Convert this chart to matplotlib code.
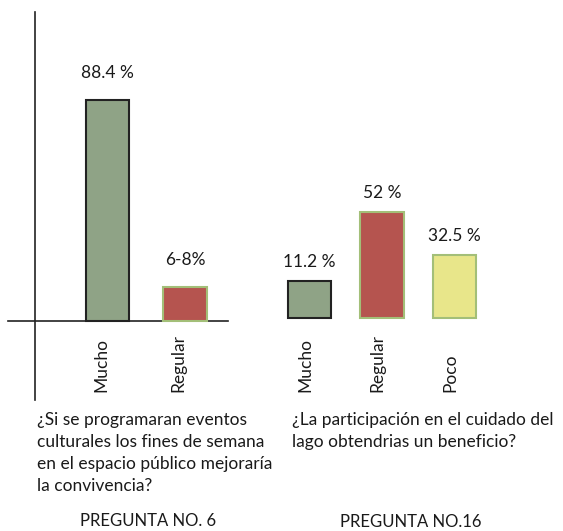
import matplotlib
matplotlib.use("Agg")
import matplotlib.pyplot as plt

plt.rcParams['font.family'] = ['Lato', 'DejaVu Sans']

# ---- data ----
q6_categories = ["Mucho", "Regular"]
q6_heights = [88.4, 13.5]
q6_labels = ["88.4 %", "6-8%"]

q16_categories = ["Mucho", "Regular", "Poco"]
q16_heights = [18.1, 52.0, 30.9]
q16_labels = ["11.2 %", "52 %", "32.5 %"]

q6_question = "¿Si se programaran eventos\nculturales los fines de semana\nen el espacio público mejoraría\nla convivencia?"
q16_question = "¿La participación en el cuidado del\nlago obtendrias un beneficio?"
q6_title = "PREGUNTA NO. 6"
q16_title = "PREGUNTA NO.16"

green = "#8fa386"
red = "#b5544f"
yellow = "#e8e68a"
light_edge = "#a3bf78"
dark_edge = "#222222"

W, H = 563, 531
fig = plt.figure(figsize=(W / 100, H / 100), dpi=100)
fig.patch.set_facecolor("white")

def px_axes(x0, x1, ytop, ybot):
    return fig.add_axes([x0 / W, (H - ybot) / H, (x1 - x0) / W, (ybot - ytop) / H])

FS = 12.5
TC = "#1a1a1a"

# ---- left group ----
ax1 = px_axes(8, 228, 12, 400)
ax1.set_xlim(-1.284, 1.555)
ax1.set_ylim(-31.6, 123.6)
ax1.bar(range(len(q6_categories)), q6_heights, width=0.56,
        color=[green, red], edgecolor=[dark_edge, light_edge], linewidth=1.5, zorder=3)
for s in ["top", "right"]:
    ax1.spines[s].set_visible(False)
ax1.spines["left"].set_position(("data", -0.935))
ax1.spines["bottom"].set_position(("data", 0))
for s in ["left", "bottom"]:
    ax1.spines[s].set_color("#222222")
    ax1.spines[s].set_linewidth(1.2)
ax1.set_xticks([])
ax1.set_yticks([])
ax1.patch.set_alpha(0)
for i, (h, lab) in enumerate(zip(q6_heights, q6_labels)):
    ax1.annotate(lab, xy=(i, h), xytext=(0, 19.4), textcoords="offset points",
                 ha="center", va="center", fontsize=FS, color=TC)
for i, cat in enumerate(q6_categories):
    ax1.annotate(cat, xy=(i, -28.4), xytext=(-4.5, 0), textcoords="offset points",
                 ha="center", va="bottom", rotation=90, fontsize=FS, color=TC)

# ---- right group ----
ax2 = px_axes(270, 500, 12, 400)
ax2.set_xlim(-0.545, 2.628)
ax2.set_ylim(-40.2, 150)
ax2.bar(range(len(q16_categories)), q16_heights, width=0.6,
        color=[green, red, yellow], edgecolor=[dark_edge, light_edge, light_edge],
        linewidth=1.5, zorder=3)
ax2.axis("off")
for i, (h, lab) in enumerate(zip(q16_heights, q16_labels)):
    ax2.annotate(lab, xy=(i, h), xytext=(0, 13.7), textcoords="offset points",
                 ha="center", va="center", fontsize=FS, color=TC)
for i, cat in enumerate(q16_categories):
    ax2.annotate(cat, xy=(i, -36.3), xytext=(-3, 0), textcoords="offset points",
                 ha="center", va="bottom", rotation=90, fontsize=FS, color=TC)

# ---- texts ----
fig.text(37 / W, 1 - 412 / H, q6_question, ha="left", va="top", fontsize=FS,
         color=TC, linespacing=1.47)
fig.text(292 / W, 1 - 412 / H, q16_question, ha="left", va="top", fontsize=FS,
         color=TC, linespacing=1.47)
fig.text(148 / W, 1 - 521 / H, q6_title, ha="center", va="center", fontsize=FS - 0.5, color=TC)
fig.text(411 / W, 1 - 522 / H, q16_title, ha="center", va="center", fontsize=FS - 0.5, color=TC)

fig.savefig("out.png", dpi=100, facecolor="white")
